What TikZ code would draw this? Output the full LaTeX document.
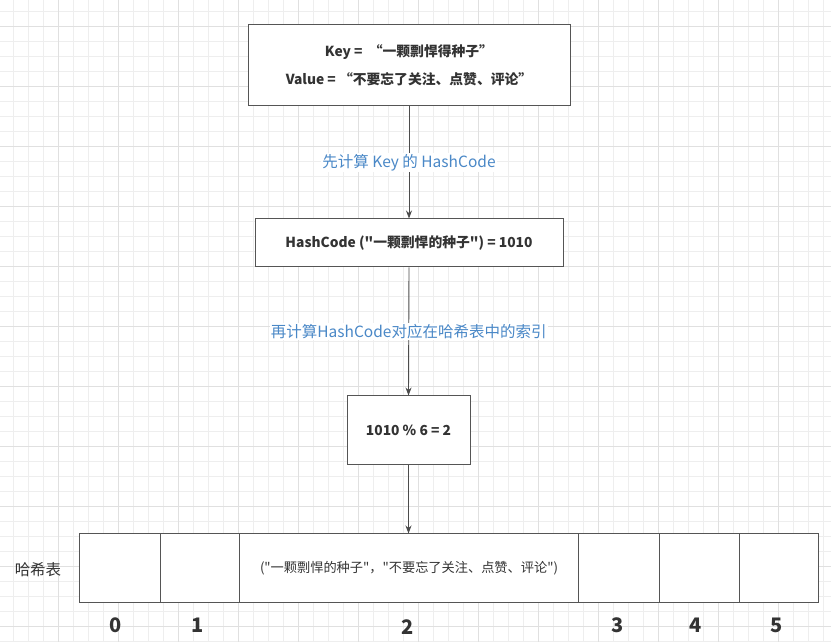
\documentclass[tikz,border=0pt]{standalone}
\usepackage{fontspec}
\setmainfont{Noto Sans CJK SC}[Ligatures=TeXOff]
\usetikzlibrary{arrows.meta}
\definecolor{gminor}{HTML}{EEEEEE}
\definecolor{gmajor}{HTML}{E0E0E0}
\definecolor{boxline}{HTML}{555555}
\definecolor{txt}{HTML}{333333}
\definecolor{lblue}{HTML}{4A88C7}
\tikzset{
  box/.style={draw=boxline, line width=1pt, fill=white, text=txt, font=\fontsize{13.8}{16}\selectfont\bfseries, align=center, inner sep=0pt},
  cell/.style={draw=boxline, line width=1pt, fill=white, text=txt, minimum height=69pt, inner sep=0pt, anchor=west},
  lbl/.style={fill=white, text=lblue, font=\fontsize{15.5}{18}\selectfont, inner sep=1pt},
  idx/.style={text=txt, font=\fontsize{20}{22}\selectfont\bfseries},
  conn/.style={draw=boxline!90!black, line width=0.9pt, -{Stealth[length=8pt,width=6pt]}}
}
\begin{document}
\begin{tikzpicture}[x=1pt,y=1pt]
\useasboundingbox (0,0) rectangle (831,642);
\fill[white] (0,0) rectangle (831,642);
% grid
\foreach \x in {13.3,28.3,...,831} \draw[gminor, line width=0.8pt] (\x,0) -- (\x,642);
\foreach \y in {0.3,15.3,...,642} \draw[gminor, line width=0.8pt] (0,\y) -- (831,\y);
\foreach \x in {58.3,118.3,...,831} \draw[gmajor, line width=0.8pt] (\x,0) -- (\x,642);
\foreach \y in {15.3,75.3,...,642} \draw[gmajor, line width=0.8pt] (0,\y) -- (831,\y);
% boxes
\node[box, minimum width=322pt, minimum height=81pt] (kv) at (409,576.5)
  {Key =\ \ “一颗剽悍得种子”\\[12pt]Value = “不要忘了关注、点赞、评论”};
\node[box, minimum width=308pt, minimum height=48pt] (hc) at (409,399)
  {HashCode ("一颗剽悍的种子") = 1010};
\node[box, minimum width=123pt, minimum height=69pt] (mod) at (408.5,211.5)
  {1010 \% 6 = 2};
% table
\node[cell, minimum width=81pt] (c0) at (79,73.5) {};
\node[cell, minimum width=79pt] (c1) at (160,73.5) {};
\node[cell, minimum width=339pt, text=txt, font=\fontsize{13.2}{15}\selectfont] (c2) at (239,73.5)
  {("一颗剽悍的种子"，"不要忘了关注、点赞、评论")};
\node[cell, minimum width=81pt] (c3) at (578,73.5) {};
\node[cell, minimum width=80pt] (c4) at (659,73.5) {};
\node[cell, minimum width=79pt] (c5) at (739,73.5) {};
\node[text=txt, font=\fontsize{15.5}{18}\selectfont] (ht) at (38,72) {哈希表};
% indices
\node[idx] (i0) at (116,17) {0};
\node[idx] (i1) at (198,17) {1};
\node[idx] (i2) at (408,15) {2};
\node[idx] (i3) at (618,17) {3};
\node[idx] (i4) at (696,17) {4};
\node[idx] (i5) at (777,17) {5};
% connectors
\draw[conn] (kv.south) -- node[lbl] (l1) {先计算 Key 的 HashCode} (hc.north);
\draw[conn] (hc.south) -- node[lbl] (l2) {再计算HashCode对应在哈希表中的索引} (mod.north);
\draw[conn] (mod.south) -- (c2.north -| mod.south);
\end{tikzpicture}
\end{document}
